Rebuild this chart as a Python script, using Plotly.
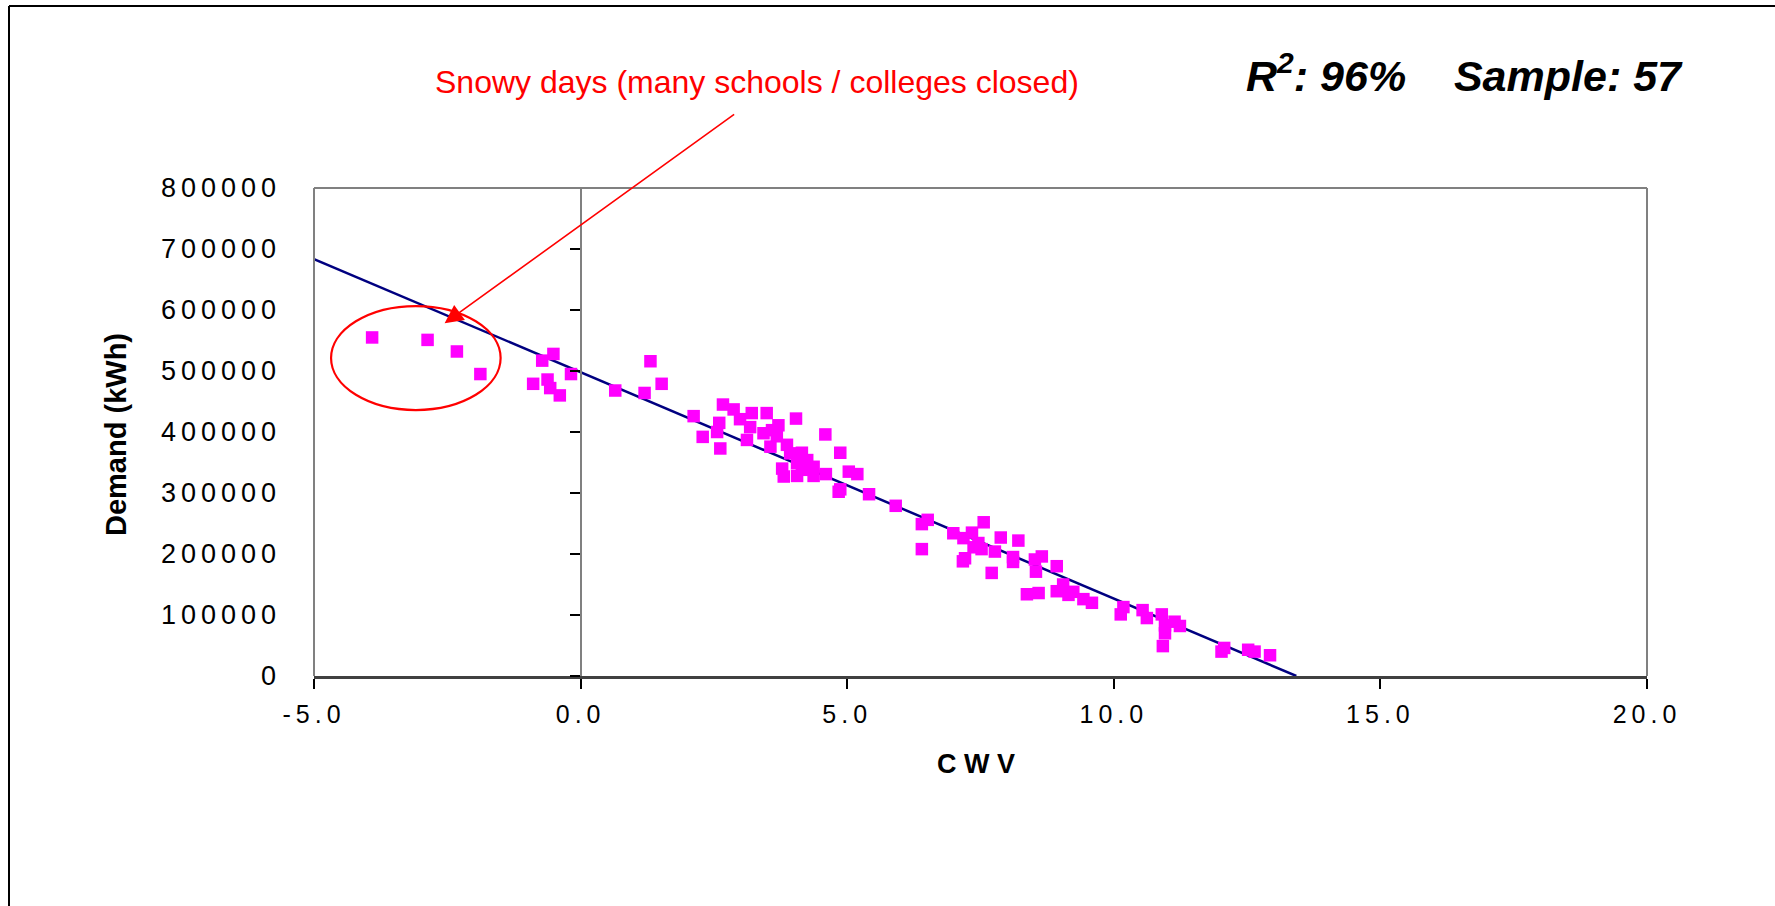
import plotly.graph_objects as go

# Daily demand against composite weather variable (CWV)
cwv = [
    -3.91, -2.87, -2.32, -1.88, -0.51, -0.72, -0.18, -0.89, -0.62, -0.57, -0.39,
    0.65, 1.31, 1.52, 1.20,
    2.12, 2.67, 2.87, 2.99, 2.60, 2.56, 2.29, 2.62, 3.21, 3.49, 3.18, 3.12, 3.43,
    3.71, 3.59, 3.68, 3.56, 3.87, 4.04, 4.59, 4.87, 4.15, 3.93, 3.78, 4.06, 4.25,
    4.37, 3.81, 4.06, 4.37, 4.60, 4.15, 5.03, 5.19, 4.84, 4.87, 5.41, 5.91, 6.40,
    6.51, 6.40, 6.99, 7.34, 7.56, 7.18, 7.46, 7.37, 7.52, 7.77, 7.88, 8.21, 7.21,
    7.17, 7.71, 8.11, 8.11, 8.65, 8.52, 8.54, 8.93, 8.37, 8.59, 9.05, 8.93, 9.24,
    9.43, 9.59, 9.15, 10.18, 10.13, 10.54, 10.62,
    10.90, 10.96, 10.96, 11.14, 11.24, 10.92, 12.07, 12.02, 12.52, 12.64, 12.93,
]
demand = [
    555000, 551000, 532000, 495000, 528000, 517000, 495000, 479000, 486000, 472000, 460000,
    468000, 516000, 479000, 464000,
    426000, 445000, 437000, 421000, 415000, 400000, 392000, 373000, 431000, 431000, 408000,
    387000, 398000, 411000, 403000, 393000, 376000, 379000, 422000, 396000, 366000, 366000,
    365000, 340000, 349000, 354000, 343000, 327000, 328000, 328000, 331000, 338000, 335000,
    331000, 302000, 306000, 298000, 279000, 249000, 256000, 208000, 234000, 235000, 252000,
    226000, 218000, 211000, 208000, 204000, 227000, 222000, 193000, 188000, 169000, 195000,
    187000, 196000, 191000, 171000, 180000, 134000, 136000, 150000, 139000, 138000, 126000,
    120000, 133000, 113000, 101000, 108000, 95000,
    101000, 83000, 70000, 89000, 82000, 49000, 46000, 40000, 43000, 40000, 34000,
]

# Linear trend: demand = intercept + slope * CWV
TREND_INTERCEPT = 498000
TREND_SLOPE = -37100

x_range = [-5, 20]
y_range = [0, 800000]
x_ticks = [-5, 0, 5, 10, 15, 20]
x_tick_text = ["-5.0", "0.0", "5.0", "10.0", "15.0", "20.0"]
y_ticks = [0, 100000, 200000, 300000, 400000, 500000, 600000, 700000, 800000]
y_tick_text = ["0", "100000", "200000", "300000", "400000", "500000", "600000", "700000", "800000"]

W, H = 1775, 906
M = dict(l=314, r=128, t=188, b=230)
PW = W - M["l"] - M["r"]
PH = H - M["t"] - M["b"]


def px(x):
    return (x - M["l"]) / PW


def py(y):
    return (H - M["b"] - y) / PH


def spaced(s, sp):
    return f'<span style="letter-spacing:{sp}px">{s}</span>'


trend_x = [x_range[0], -TREND_INTERCEPT / TREND_SLOPE]
trend_y = [TREND_INTERCEPT + TREND_SLOPE * x for x in trend_x]

fig = go.Figure()
fig.add_trace(go.Scatter(
    x=trend_x, y=trend_y, mode="lines",
    line=dict(color="#000080", width=2.5), hoverinfo="skip",
))
fig.add_trace(go.Scatter(
    x=cwv, y=demand, mode="markers",
    marker=dict(symbol="square", size=12.5, color="#FF00FF", line=dict(width=0)),
))
# carrier for the value axis drawn through CWV = 0
fig.add_trace(go.Scatter(x=[None], y=[None], yaxis="y2", hoverinfo="skip"))

zero_pos = (0 - x_range[0]) / (x_range[1] - x_range[0])

grey = "#808080"
fig.update_layout(
    width=W, height=H,
    margin=dict(M, pad=0, autoexpand=False),
    paper_bgcolor="white", plot_bgcolor="white",
    showlegend=False,
    font=dict(family="Liberation Sans, Arial, sans-serif", color="black"),
    xaxis=dict(
        range=x_range, tickvals=x_ticks,
        ticktext=[spaced(t, 5) for t in x_tick_text],
        tickfont=dict(size=25), ticks="outside", ticklen=10, tickwidth=1.5,
        tickcolor="black", showline=True, linecolor="#404040", linewidth=2.5,
        showgrid=False, zeroline=False, ticklabelstandoff=4,
    ),
    yaxis=dict(
        range=y_range, tickvals=y_ticks,
        ticktext=[spaced(t, 5) for t in y_tick_text],
        tickfont=dict(size=27), ticks="", showline=False,
        showgrid=False, zeroline=False, ticklabelstandoff=32,
    ),
    yaxis2=dict(
        overlaying="y", anchor="free", position=zero_pos, side="left",
        range=y_range, tickvals=y_ticks, showticklabels=False,
        ticks="outside", ticklen=10, tickwidth=1.5, tickcolor="black",
        showline=True, linecolor=grey, linewidth=1.5,
        showgrid=False, zeroline=False,
    ),
)

# plot-area frame (left, top, right) and outer chart frame
frame = [
    (0, 0, 0, 1), (0, 1, 1, 1), (1, 1, 1, 0),
]
for x0, y0, x1, y1 in frame:
    fig.add_shape(type="line", xref="paper", yref="paper",
                  x0=x0, y0=y0, x1=x1, y1=y1, line=dict(color=grey, width=2))
fig.add_shape(type="line", xref="paper", yref="paper",
              x0=px(9), y0=py(6), x1=px(W), y1=py(6), line=dict(color="black", width=2))
fig.add_shape(type="line", xref="paper", yref="paper",
              x0=px(9), y0=py(6), x1=px(9), y1=py(H), line=dict(color="black", width=2))

# highlight of the snow-affected days
fig.add_shape(type="circle", xref="x", yref="y",
              x0=-4.68, x1=-1.50, y0=436000, y1=606500,
              line=dict(color="#FF0000", width=2.2))

fig.add_annotation(
    x=-2.55, y=578300, xref="x", yref="y", ax=291, ay=-210,
    text="", showarrow=True, arrowhead=2, arrowsize=2.3, arrowwidth=1.6,
    arrowcolor="#FF0000", standoff=0,
)
fig.add_annotation(
    x=px(757), y=py(82), xref="paper", yref="paper",
    text="Snowy days (many schools / colleges closed)", showarrow=False,
    xanchor="center", yanchor="middle",
    font=dict(size=32, color="#FF0000"),
)
fig.add_annotation(
    x=px(1464), y=py(73), xref="paper", yref="paper",
    text="<b><i>R<sup>2</sup>: 96%\u00a0\u00a0\u00a0 Sample: 57</i></b>", showarrow=False,
    xanchor="center", yanchor="middle",
    font=dict(size=43, color="black"),
)
fig.add_annotation(
    x=px(976), y=py(764), xref="paper", yref="paper",
    text="<b>C W V</b>", showarrow=False, xanchor="center", yanchor="middle",
    font=dict(size=27),
)
fig.add_annotation(
    x=px(116), y=py(434), xref="paper", yref="paper",
    text="<b>Demand (kWh)</b>", showarrow=False, textangle=-90,
    xanchor="center", yanchor="middle",
    font=dict(size=29),
)

fig.write_html("out.html")
